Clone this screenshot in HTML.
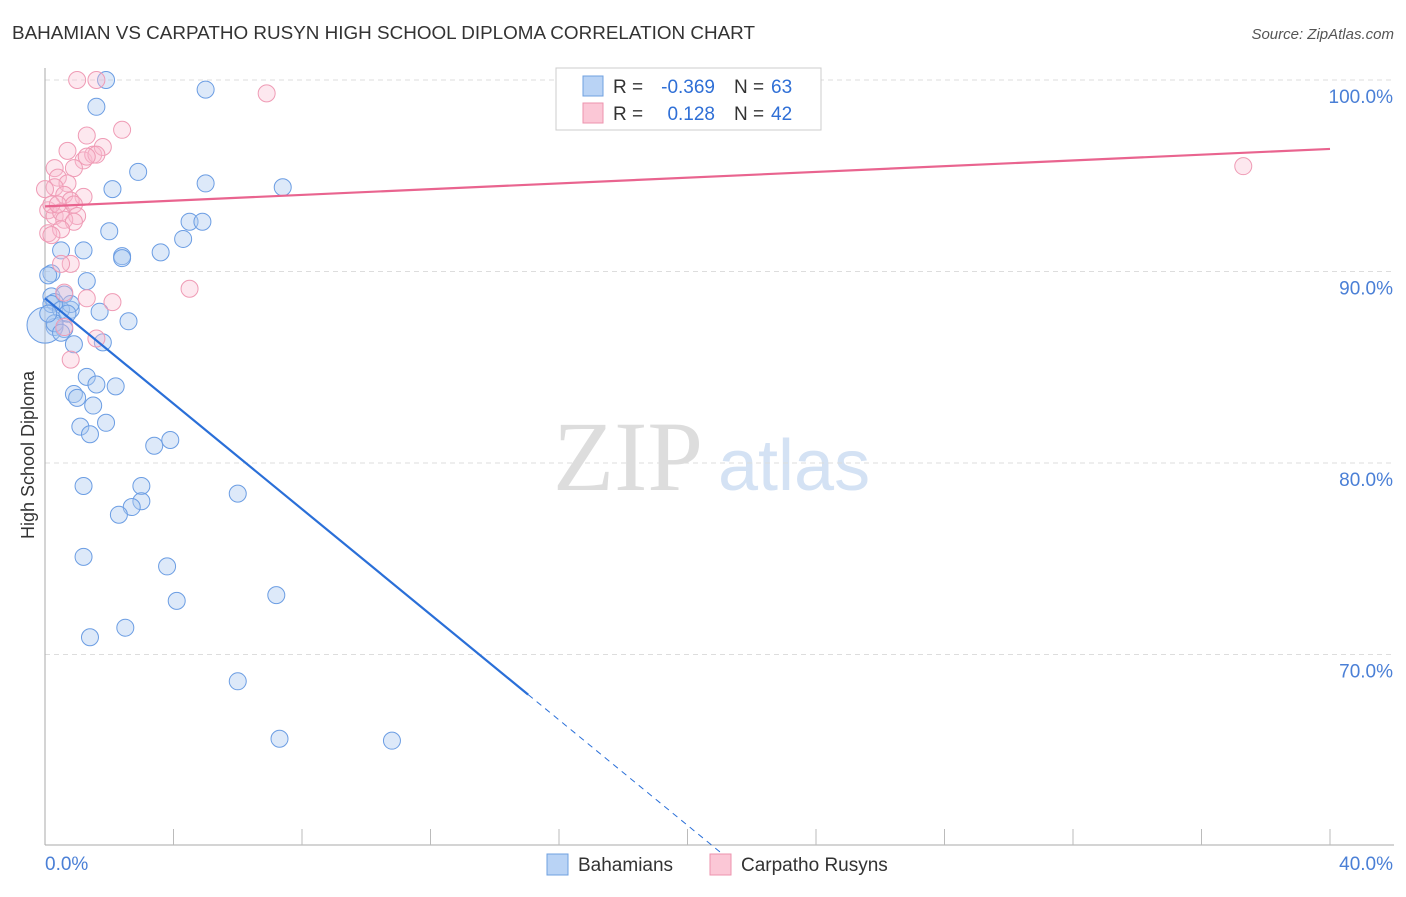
<!DOCTYPE html>
<html><head><meta charset="utf-8"><style>
body{margin:0;background:#fff;font-family:"Liberation Sans",sans-serif;}
svg text{font-family:"Liberation Sans",sans-serif;}
svg text.serif{font-family:"Liberation Serif",serif;}
</style></head><body>
<svg width="1406" height="892" xmlns="http://www.w3.org/2000/svg" id="chart">
<text x="12" y="39" font-size="18" fill="#333" textLength="743" lengthAdjust="spacingAndGlyphs">BAHAMIAN VS CARPATHO RUSYN HIGH SCHOOL DIPLOMA CORRELATION CHART</text>
<text x="1394" y="39" font-size="15" fill="#555" text-anchor="end" font-style="italic">Source: ZipAtlas.com</text>
<text class="serif" x="553" y="490" font-size="100" fill="#ddd">ZIP</text>
<text x="718" y="490" font-size="72" fill="#d4e2f4">atlas</text>
<g id="grid"></g><g id="axes"></g><g id="pts"></g><g id="lines"></g>
<text transform="translate(34,455) rotate(-90)" font-size="18" fill="#333" text-anchor="middle">High School Diploma</text>
<g>
<rect x="556" y="68" width="265" height="62" fill="#fff" stroke="#ccc"/>
<rect x="583" y="76" width="20" height="20" fill="#b9d3f5" stroke="#6fa0e0"/>
<rect x="583" y="103" width="20" height="20" fill="#fbc7d6" stroke="#ec93ae"/>
<text x="613" y="93" font-size="19" fill="#333">R =</text>
<text x="715" y="93" font-size="19" fill="#2f6fd6" text-anchor="end">-0.369</text>
<text x="734" y="93" font-size="19" fill="#333">N =</text>
<text x="771" y="93" font-size="19" fill="#2f6fd6">63</text>
<text x="613" y="120" font-size="19" fill="#333">R =</text>
<text x="715" y="120" font-size="19" fill="#2f6fd6" text-anchor="end">0.128</text>
<text x="734" y="120" font-size="19" fill="#333">N =</text>
<text x="771" y="120" font-size="19" fill="#2f6fd6">42</text>
</g>
<g>
<rect x="547" y="854" width="21" height="21" fill="#b9d3f5" stroke="#6fa0e0"/>
<text x="578" y="871" font-size="19" fill="#333">Bahamians</text>
<rect x="710" y="854" width="21" height="21" fill="#fbc7d6" stroke="#ec93ae"/>
<text x="741" y="871" font-size="19" fill="#333">Carpatho Rusyns</text>
</g>
</svg>
<script>
const xTicks=[0,40];
const yTicks=[70,80,90,100];
const blueX=[1.9,5.0,1.6,2.9,5.0,2.1,7.4,4.5,4.9,2.0,4.3,0.5,1.2,3.6,2.4,2.4,0.2,1.3,0.1,0.2,0.6,0.3,0.8,1.7,2.6,0.3,0.6,0.9,1.8,1.3,1.6,2.2,0.9,1.0,1.5,1.1,1.9,1.4,3.4,3.9,1.2,3.0,3.0,2.7,2.3,6.0,1.2,3.8,4.1,7.2,2.5,1.4,6.0,7.3,10.8,0.0,0.2,0.5,0.8,0.3,0.5,0.7,0.1];
const blueY=[100,99.5,98.6,95.2,94.6,94.3,94.4,92.6,92.6,92.1,91.7,91.1,91.1,91.0,90.8,90.7,89.9,89.5,89.8,88.7,88.8,88.4,88.0,87.9,87.4,87.1,87.0,86.2,86.3,84.5,84.1,84.0,83.6,83.4,83.0,81.9,82.1,81.5,80.9,81.2,78.8,78.8,78.0,77.7,77.3,78.4,75.1,74.6,72.8,73.1,71.4,70.9,68.6,65.6,65.5,87.2,88.3,88.0,88.3,87.3,86.8,87.8,87.8];
const pinkX=[1.0,1.6,6.9,2.4,1.3,0.7,1.2,1.5,1.8,1.6,0.3,0.9,0.4,0.7,0.3,0.6,1.2,0.8,0.1,0.3,0.5,0.9,1.0,0.6,0.9,0.1,0.5,2.1,4.5,0.6,1.3,1.6,0.8,0.6,37.3,0.2,0.0,0.4,0.8,1.3,0.5,0.2];
const pinkY=[100,100,99.3,97.4,97.1,96.3,95.8,96.1,96.5,96.1,95.4,95.4,94.9,94.6,94.4,94.0,93.9,93.7,93.2,92.9,93.1,93.5,92.9,92.7,92.6,92.0,92.2,88.4,89.1,88.9,88.6,86.5,85.4,87.1,95.5,93.5,94.3,93.5,90.4,96.0,90.4,91.9];
const blueTrend=[88.6,-1.376];
const pinkTrend=[93.4,0.075];
const NS="http://www.w3.org/2000/svg";
const X=v=>45+v/40*1285, Y=v=>80+(100-v)*19.15;
function mk(t,a,p){const e=document.createElementNS(NS,t);for(const k in a)e.setAttribute(k,a[k]);document.getElementById(p).appendChild(e);return e;}
yTicks.forEach(t=>{
 const l=mk('line',{x1:45,x2:1394,y1:Y(t),y2:Y(t),stroke:'#ddd','stroke-dasharray':'5,4'},'grid');
 
 
 const tx=mk('text',{x:1393,y:Y(t)+23,'font-size':19,fill:'#4a7fd6','text-anchor':'end'},'grid');tx.textContent=t.toFixed(1)+'%';
 
 
});
mk('line',{x1:45,x2:45,y1:68,y2:845,stroke:'#aaa'},'axes');
mk('line',{x1:45,x2:1394,y1:845,y2:845,stroke:'#aaa'},'axes');
for(let i=1;i<=10;i++){mk('line',{x1:45+i*128.5,x2:45+i*128.5,y1:829,y2:845,stroke:'#bbb'},'axes');}
xTicks.forEach((t,i)=>{const tx=mk('text',{x:i?1393:45,y:870,'font-size':19,fill:'#4a7fd6','text-anchor':i?'end':'start'},'axes');tx.textContent=t.toFixed(1)+'%';
 
 });
blueX.forEach((x,i)=>{const c=mk('circle',{cx:X(x),cy:Y(blueY[i]),r:i==55?18:8.5,fill:'rgba(170,200,240,0.4)',stroke:'#6b9de3','stroke-width':1},'pts');
 
 });
pinkX.forEach((x,i)=>{const c=mk('circle',{cx:X(x),cy:Y(pinkY[i]),r:8.5,fill:'rgba(250,190,208,0.35)',stroke:'#ef9bb5','stroke-width':1},'pts');
 
 });
const bEnd=15.04,bDash=21.1;
let l=mk('line',{x1:X(0),y1:Y(blueTrend[0]),x2:X(bEnd),y2:Y(blueTrend[0]+blueTrend[1]*bEnd),stroke:'#2a6fd8','stroke-width':2.2},'lines');


l=mk('line',{x1:X(bEnd),y1:Y(blueTrend[0]+blueTrend[1]*bEnd),x2:X(bDash),y2:Y(blueTrend[0]+blueTrend[1]*bDash),stroke:'#2a6fd8','stroke-width':1,'stroke-dasharray':'6,5'},'lines');


l=mk('line',{x1:X(0),y1:Y(pinkTrend[0]),x2:X(40),y2:Y(pinkTrend[0]+pinkTrend[1]*40),stroke:'#e9648f','stroke-width':2.2},'lines');


</script>
</body></html>
